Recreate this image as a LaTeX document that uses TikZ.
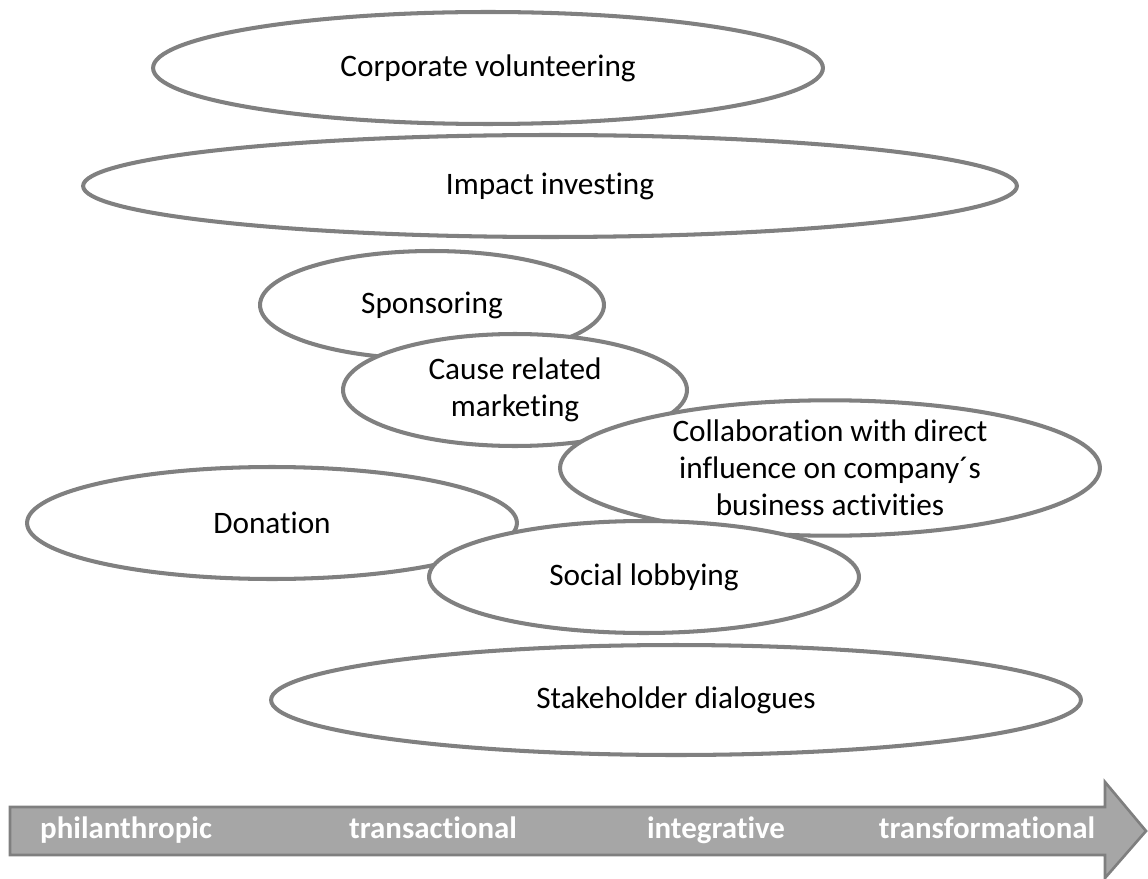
\documentclass[tikz,border=0pt]{standalone}
\usepackage{fontspec}
\setmainfont{Carlito}[Ligatures={NoCommon}]
\usetikzlibrary{shapes.geometric}
\definecolor{rimgray}{HTML}{808080}
\definecolor{bargray}{HTML}{A6A6A6}
\definecolor{bardark}{HTML}{7F7F7F}
\begin{document}
\begin{tikzpicture}[x=0.02cm, y=-0.02cm,
    bubble/.style={ellipse, draw=rimgray, line width=2.3pt, fill=white, inner sep=0pt, align=center,
      font=\fontsize{17.8}{21}\selectfont},
    stage/.style={anchor=base, text=white, font=\fontsize{17.6}{20}\selectfont\bfseries}]
    \useasboundingbox (0,0) rectangle (1148,878);
	\node[bubble, minimum width=13.4cm, minimum height=2.24cm] (volunteering) at (488,68) {Corporate volunteering};
	\node[bubble, minimum width=18.68cm, minimum height=2.04cm] (investing) at (550,186) {Impact investing};
	\node[bubble, minimum width=6.88cm, minimum height=2.16cm] (sponsoring) at (432,305) {Sponsoring};
	\node[bubble, minimum width=6.88cm, minimum height=2.24cm] (marketing) at (515,390) {Cause related\\marketing};
	\node[bubble, minimum width=10.8cm, minimum height=2.44cm] (collaboration) at (830,468) {Collaboration with direct\\influence on company´s\\business activities};
	\node[bubble, minimum width=9.8cm, minimum height=2.24cm] (donation) at (272,523) {Donation};
	\node[bubble, minimum width=8.6cm, minimum height=2.24cm] (lobbying) at (644,577) {Social lobbying};
	\node[bubble, minimum width=16.2cm, minimum height=2.2cm] (dialogues) at (676,700) {Stakeholder dialogues};
	\draw[draw=bardark, fill=bargray, line width=1.5pt] (10,807) -- (1105,807) -- (1105,782) -- (1146,831)
	    -- (1105,878) -- (1105,855) -- (10,855) -- cycle;
	\node[stage] (philanthropic) at (126,838) {philanthropic};
	\node[stage] (transactional) at (433,838) {transactional};
	\node[stage] (integrative) at (716,838) {integrative};
	\node[stage] (transformational) at (987,838) {transformational};
\end{tikzpicture}
\end{document}
